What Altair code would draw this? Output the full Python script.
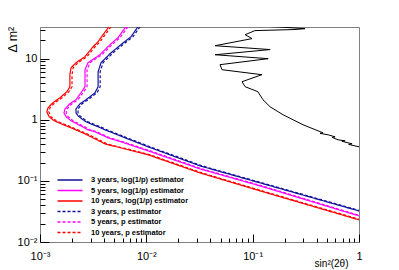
import json
import altair as alt
import pandas as pd

# ---------------- data ----------------
series_names = [
    "3 years, log(1/p) estimator",
    "5 years, log(1/p) estimator",
    "10 years, log(1/p) estimator",
    "3 years, p estimator",
    "5 years, p estimator",
    "10 years, p estimator",
]
series_colors = ["#10109a", "#ff00ff", "#ff0000", "#10109a", "#ff00ff", "#ff0000"]
series_dash = [[1, 0], [1, 0], [1, 0], [3, 2], [3, 2], [3, 2]]

blue_solid_x = [0.00836, 0.00718, 0.00578, 0.00466, 0.00375, 0.00352, 0.00352, 0.00329, 0.00271, 0.00238,
                0.00218, 0.00218, 0.00228, 0.00254, 0.00271, 0.00352, 0.00408, 0.00631, 0.0104, 0.0320, 0.1175, 1.0]
blue_solid_y = [33.5, 22.9, 17.0, 12.5, 8.60, 6.12, 3.48, 2.77, 2.13, 1.83,
                1.51, 1.30, 1.16, 1.00, 0.927, 0.768, 0.686, 0.507, 0.361, 0.176, 0.0927, 0.0322]
blue_dash_x = [0.00874, 0.00750, 0.00604, 0.00487, 0.00392, 0.00368, 0.00368, 0.00344, 0.00283, 0.00249,
               0.00228, 0.00228, 0.00238, 0.00265, 0.00283, 0.00368, 0.00426, 0.00659, 0.0109, 0.0334, 0.123, 1.0]
blue_dash_y = [33.5, 22.9, 17.0, 12.5, 8.60, 6.12, 3.48, 2.77, 2.13, 1.83,
               1.51, 1.30, 1.16, 1.00, 0.927, 0.768, 0.686, 0.507, 0.361, 0.176, 0.0927, 0.0329]

magenta_solid_x = [0.00644, 0.00542, 0.00456, 0.00366, 0.00283, 0.00265, 0.00265, 0.00243, 0.00218, 0.00191,
                   0.00172, 0.00168, 0.00176, 0.00196, 0.00213, 0.00283, 0.00329, 0.00436, 0.00578, 0.0104,
                   0.0320, 0.1175, 1.0]
magenta_solid_y = [33.5, 22.1, 17.0, 11.6, 8.60, 6.60, 3.48, 2.77, 2.13, 1.83,
                   1.51, 1.30, 1.12, 0.963, 0.893, 0.686, 0.636, 0.507, 0.436, 0.310,
                   0.157, 0.0828, 0.0267]
magenta_dash_x = [0.00673, 0.00566, 0.00477, 0.00382, 0.00296, 0.00277, 0.00277, 0.00254, 0.00228, 0.00200,
                  0.00180, 0.00176, 0.00184, 0.00205, 0.00223, 0.00296, 0.00344, 0.00456, 0.00604, 0.0109,
                  0.0334, 0.123, 1.0]
magenta_dash_y = [33.5, 22.1, 17.0, 11.6, 8.60, 6.60, 3.48, 2.77, 2.13, 1.83,
                  1.51, 1.30, 1.12, 0.963, 0.893, 0.686, 0.636, 0.507, 0.436, 0.310,
                  0.157, 0.0828, 0.0273]

red_solid_x = [0.00446, 0.00392, 0.00352, 0.00316, 0.00265, 0.00218, 0.00196, 0.00191, 0.00191, 0.00179,
               0.00154, 0.00132, 0.00119, 0.00116, 0.00122, 0.00136, 0.00158, 0.00196, 0.00265, 0.00408,
               0.0104, 0.0320, 0.1175, 1.0]
red_solid_y = [33.5, 24.7, 19.0, 15.7, 10.8, 8.60, 7.12, 5.47, 3.48, 2.88,
               2.29, 1.90, 1.57, 1.35, 1.12, 0.963, 0.860, 0.739, 0.589, 0.404,
               0.267, 0.135, 0.0686, 0.0230]
red_dash_x = [0.00466, 0.00410, 0.00368, 0.00330, 0.00277, 0.00228, 0.00205, 0.00200, 0.00200, 0.00187,
              0.00161, 0.00138, 0.00124, 0.00121, 0.00127, 0.00142, 0.00165, 0.00205, 0.00277, 0.00426,
              0.0109, 0.0334, 0.123, 1.0]
red_dash_y = [33.5, 24.7, 19.0, 15.7, 10.8, 8.60, 7.12, 5.47, 3.48, 2.88,
              2.29, 1.90, 1.57, 1.35, 1.12, 0.963, 0.860, 0.739, 0.589, 0.404,
              0.267, 0.135, 0.0686, 0.0236]

black_x = [0.125, 0.18, 0.311, 0.25, 0.105, 0.0849, 0.0987, 0.0443, 0.146, 0.0443, 0.140, 0.0493, 0.0515,
           0.122, 0.0794, 0.0849, 0.112, 0.125, 0.146, 0.193, 0.298, 0.459, 0.430, 0.512, 0.596, 0.560,
           0.635, 0.740, 0.690, 0.861, 0.80, 1.0]
black_y = [34, 33, 31.0, 30, 28.8, 24.7, 21.3, 16.3, 14.1, 11.6, 10.0, 7.98, 6.60,
           5.47, 4.20, 3.48, 2.88, 2.13, 1.63, 1.21, 0.828, 0.612, 0.600, 0.568, 0.526, 0.515,
           0.470, 0.453, 0.445, 0.404, 0.395, 0.361]

x_tick_values = [0.001, 0.01, 0.1, 1]
x_tick_labels = ["10\u207b\u00b3", "10\u207b\u00b2", "10\u207b\u00b9", "1"]
y_tick_values = [0.01, 0.1, 1, 10]
y_tick_labels = ["10\u207b\u00b2", "10\u207b\u00b9", "1", "10"]
x_minor = [m * d for d in [0.001, 0.01, 0.1] for m in range(2, 10)]
y_minor = [m * d for d in [0.01, 0.1, 1, 10] for m in range(2, 10) if m * d <= 33]

# ---------------- tables ----------------
curves = [
    (blue_solid_x, blue_solid_y), (magenta_solid_x, magenta_solid_y), (red_solid_x, red_solid_y),
    (blue_dash_x, blue_dash_y), (magenta_dash_x, magenta_dash_y), (red_dash_x, red_dash_y),
]
rows = []
for name, (xs_, ys_) in zip(series_names, curves):
    for i, (xv, yv) in enumerate(zip(xs_, ys_)):
        rows.append({"series": name, "i": i, "x": xv, "y": yv})
df = pd.DataFrame(rows)
df_black = pd.DataFrame({"i": range(len(black_x)), "x": black_x, "y": black_y})

W, H = 319, 215
FONT = "Liberation Sans"
xscale = alt.Scale(type="log", domain=[0.001, 1], nice=False)
yscale = alt.Scale(type="log", domain=[0.01, 33], nice=False)


def lab_expr(vals, labs):
    m = {repr(v) if v < 1 else str(int(v)): l for v, l in zip(vals, labs)}
    return "(" + json.dumps(m, ensure_ascii=False) + ")[''+datum.value]"


x_axis_main = alt.Axis(values=x_tick_values, labelExpr=lab_expr(x_tick_values, x_tick_labels),
                       ticks=False, tickSize=0, domain=False, grid=False, labelPadding=8,
                       labelFont=FONT, labelFontSize=11, labelColor="black", labelFlush=False,
                       labelOverlap=False,
                       title="sin\u00b2(2\u03b8)", titleFont=FONT, titleFontSize=10, titleFontWeight="normal",
                       titleX=308, titleY=21, titleAlign="right", titleBaseline="middle", titleColor="black")
y_axis_main = alt.Axis(values=y_tick_values, labelExpr=lab_expr(y_tick_values, y_tick_labels),
                       ticks=False, tickSize=0, domain=False, grid=False, labelPadding=3,
                       labelFont=FONT, labelFontSize=11, labelColor="black", labelFlush=False,
                       labelOverlap=False,
                       title="\u0394 m\u00b2", titleFont=FONT, titleFontSize=12.5, titleFontWeight="normal",
                       titleX=-28, titleY=25, titleAngle=-90, titleAlign="left", titleBaseline="middle",
                       titleColor="black")

order = alt.Order("i:Q")

lines = alt.Chart(df).mark_line(clip=True, strokeWidth=1.2).encode(
    x=alt.X("x:Q", scale=xscale, axis=x_axis_main),
    y=alt.Y("y:Q", scale=yscale, axis=y_axis_main),
    color=alt.Color("series:N", scale=alt.Scale(domain=series_names, range=series_colors),
                    sort=series_names, legend=alt.Legend(title=None)),
    strokeDash=alt.StrokeDash("series:N", scale=alt.Scale(domain=series_names, range=series_dash),
                              sort=series_names, legend=alt.Legend(title=None)),
    detail="series:N",
    order=order,
)

black = alt.Chart(df_black).mark_line(clip=True, strokeWidth=1, color="black").encode(
    x=alt.X("x:Q", scale=xscale, axis=None),
    y=alt.Y("y:Q", scale=yscale, axis=None),
    order=order,
)


def tick_layer(xvals, yvals, size_x, size_y):
    xa = alt.Axis(orient="top", offset=-H, values=xvals, labels=False, domain=False, grid=False,
                  ticks=True, tickSize=size_x, tickColor="black", tickWidth=1, title=None)
    ya = alt.Axis(orient="right", offset=-W, values=yvals, labels=False, domain=False, grid=False,
                  ticks=True, tickSize=size_y, tickColor="black", tickWidth=1, title=None)
    return alt.Chart(df_black).mark_point(opacity=0).encode(
        x=alt.X("x:Q", scale=xscale, axis=xa),
        y=alt.Y("y:Q", scale=yscale, axis=ya),
    )


ticks_major = tick_layer(x_tick_values, y_tick_values, 8, 9)
ticks_minor = tick_layer(x_minor, y_minor, 4, 5)

chart = alt.layer(lines, black, ticks_major, ticks_minor).resolve_axis(
    x="independent", y="independent"
).properties(
    width=W, height=H,
    autosize=alt.AutoSizeParams(type="none"),
    padding={"left": 32, "top": 19, "right": 30, "bottom": 28},
).configure_view(
    stroke="#808080", strokeWidth=1
).configure_legend(
    orient="none", legendX=24, legendY=147, symbolType="M-2.5,0H2.5", symbolSize=100,
    symbolStrokeWidth=1.5, labelFont=FONT, labelFontWeight="bold", labelFontSize=7.5,
    labelColor="black", labelOffset=15, rowPadding=0.5, padding=0, labelLimit=300,
)

chart.save("out.html", embed_options={"renderer": "svg", "actions": False})
